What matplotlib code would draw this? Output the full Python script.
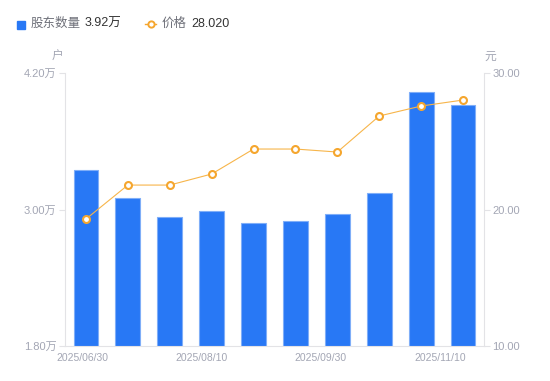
import matplotlib
matplotlib.use("Agg")
import matplotlib.pyplot as plt
import numpy as np
from matplotlib.lines import Line2D
from matplotlib.patches import Rectangle

plt.rcParams['font.family'] = ['Liberation Sans', 'Noto Sans CJK SC', 'DejaVu Sans']

dates = ["2025/06/30", "2025/07/10", "2025/07/20", "2025/07/31", "2025/08/10",
         "2025/08/20", "2025/08/31", "2025/09/10", "2025/09/20", "2025/11/10"]
holders = [3.35, 3.10, 2.935, 2.99, 2.88, 2.90, 2.96, 3.145, 4.03, 3.92]  # 万户
price = [19.30, 21.79, 21.79, 22.60, 24.43, 24.43, 24.21, 26.85, 27.58, 28.02]
xtick_labels = ["2025/06/30", "2025/08/10", "2025/09/30", "2025/11/10"]
left_ticks = [1.80, 3.00, 4.20]
right_ticks = [10.00, 20.00, 30.00]

BLUE = "#2878F5"
ORANGE = "#F5A62E"
GRAY = "#A3A6B4"
AXC = "#E3E3E6"

fig = plt.figure(figsize=(5.5, 3.81), dpi=100)
ax = fig.add_axes([65/550, 1-346/381, (484-65)/550, (346-73)/381])
x = np.arange(len(holders))
ax.bar(x, holders, width=0.59, color=BLUE, edgecolor="#7FAEF8", linewidth=0.8, zorder=2)
ax.set_xlim(-0.5, len(holders)-0.5)
ax.set_ylim(1.80, 4.20)
ax.set_yticks(left_ticks)
ax.set_yticklabels([f"{v:.2f}万" for v in left_ticks])

ax2 = ax.twinx()
ax2.plot(x, price, color="#F7B54A", linewidth=0.8, zorder=3)
ax2.plot(x, price, linestyle='none', marker="o", markersize=5,
         markerfacecolor="white", markeredgecolor=ORANGE, markeredgewidth=1.5, zorder=4)
ax2.set_ylim(10, 30)
ax2.set_yticks(right_ticks)
ax2.set_yticklabels([f"{v:.2f}" for v in right_ticks])

for a in (ax, ax2):
    for s in a.spines.values():
        s.set_visible(False)
ax.spines['left'].set_visible(True)
ax.spines['left'].set_color(AXC)
ax.spines['bottom'].set_visible(True)
ax.spines['bottom'].set_color(AXC)
ax2.spines['right'].set_visible(True)
ax2.spines['right'].set_color(AXC)

ax.tick_params(axis='y', colors=AXC, labelcolor=GRAY, labelsize=8, length=4, width=0.8, pad=2)
ax2.tick_params(axis='y', colors=AXC, labelcolor=GRAY, labelsize=8, length=4, width=0.8, pad=2)
tick_pos = np.linspace(-0.09, 8.45, len(xtick_labels))
ax.set_xticks(tick_pos)
ax.set_xticklabels(xtick_labels)
ax.tick_params(axis='x', length=0, labelcolor=GRAY, labelsize=7.5, pad=5)

fig.text(58/550, 1-57/381, "户", color=GRAY, fontsize=8.5, ha='center', va='center')
fig.text(490/550, 1-57/381, "元", color=GRAY, fontsize=8.5, ha='center', va='center')

# legend
fig.patches.append(Rectangle((17/550, 1-28.5/381), 8/550, 8/381, transform=fig.transFigure,
                             color=BLUE, figure=fig))
fig.text(31/550, 1-24/381, "股东数量", color="#6E7079", fontsize=9, va='center')
fig.text(85/550, 1-24/381, f"{holders[-1]:.2f}万", color="#333333", fontsize=9, va='center')
fig.add_artist(Line2D([145/550, 156/550], [1-24/381, 1-24/381], color=ORANGE, lw=1,
                      transform=fig.transFigure))
fig.add_artist(Line2D([150.5/550], [1-24/381], marker='o', markersize=4.5, markerfacecolor='white',
                      markeredgecolor=ORANGE, markeredgewidth=1.4, transform=fig.transFigure))
fig.text(162/550, 1-24/381, "价格", color="#6E7079", fontsize=9, va='center')
fig.text(191/550, 1-24/381, f"{price[-1]:.3f}", color="#333333", fontsize=9, va='center')

fig.savefig("out.png", dpi=100)
